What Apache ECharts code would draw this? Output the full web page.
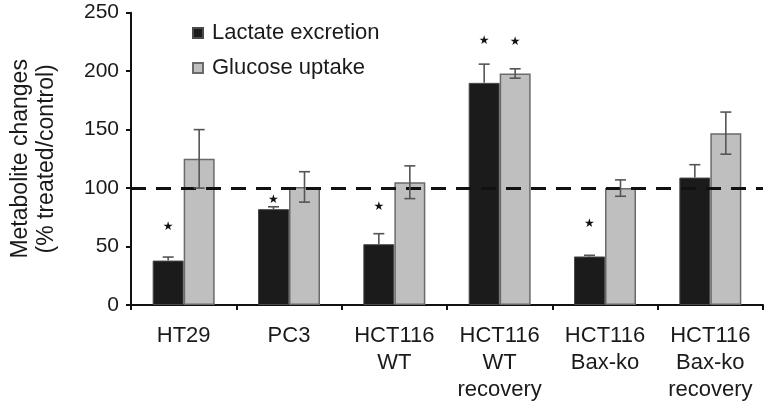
<!DOCTYPE html>
<html><head><meta charset="utf-8">
<script src="https://cdn.jsdelivr.net/npm/echarts@6/dist/echarts.min.js"></script>
<style>html,body{margin:0;padding:0;background:#fff}#c{width:768px;height:405px}</style>
</head><body><div id="c"></div>
<script>
const categories = ['HT29', 'PC3', 'HCT116\nWT', 'HCT116\nWT\nrecovery', 'HCT116\nBax-ko', 'HCT116\nBax-ko\nrecovery'];
const lactate = [38, 82, 52, 190, 41.5, 109];
const lactateErr = [3, 2, 9, 16, 1, 11];
const glucose = [125, 101, 105, 198, 100, 147];
const glucoseErr = [25, 13, 14, 4, 7, 18];
const lactateStar = [true, true, true, true, true, false];
const lactateStarY = [67, 90, 84, 226, 69, null];
const glucoseStar = [false, false, false, true, false, false];
const glucoseStarY = [null, null, null, 225, null, null];
const yTicks = [0, 50, 100, 150, 200, 250];
const refLine = 100;

const FONT = 'Liberation Sans, Arial, sans-serif';
const BARW = 31;

function errData(vals, errs, side, upperOnly) {
  return vals.map((v, i) => [i, v, errs[i], side, upperOnly ? 1 : 0]);
}
function starData(flags, ys, side) {
  const out = [];
  flags.forEach((f, i) => { if (f) out.push([i, ys[i], side]); });
  return out;
}

function renderErr(params, api) {
  const i = api.value(0), v = api.value(1), e = api.value(2), side = api.value(3), up = api.value(4);
  const top = api.coord([i, v + e]);
  const bot = api.coord([i, up ? v : v - e]);
  const x = top[0] + side * BARW / 2;
  const cap = 5.5;
  const st = { stroke: '#555', lineWidth: 1.6 };
  const children = [
    { type: 'line', shape: { x1: x, y1: top[1], x2: x, y2: bot[1] }, style: st },
    { type: 'line', shape: { x1: x - cap, y1: top[1], x2: x + cap, y2: top[1] }, style: st }
  ];
  if (!up) children.push({ type: 'line', shape: { x1: x - cap, y1: bot[1], x2: x + cap, y2: bot[1] }, style: st });
  return { type: 'group', children };
}
function renderStar(params, api) {
  const p = api.coord([api.value(0), api.value(1)]);
  const x = p[0] + api.value(2) * BARW / 2;
  return { type: 'text', style: { text: '★', x: x, y: p[1], fill: '#111', font: '12px DejaVu Sans', align: 'center', verticalAlign: 'middle' } };
}

const chart = echarts.init(document.getElementById('c'), null, { renderer: 'canvas' });
chart.setOption({
  animation: false,
  textStyle: { fontFamily: FONT },
  grid: { left: 126, right: 5, top: 12.7, bottom: 100, containLabel: false },
  legend: {
    orient: 'vertical', left: 187, top: 17, itemWidth: 10, itemHeight: 10, itemGap: 13,
    icon: 'rect',
    textStyle: { fontSize: 22, color: '#1a1a1a', fontFamily: FONT, padding: [0, 0, 0, 4] },
    data: ['Lactate excretion', 'Glucose uptake']
  },
  xAxis: {
    type: 'category', data: categories,
    axisLine: { lineStyle: { color: '#111', width: 2 } },
    axisTick: { show: true, length: 5, lineStyle: { color: '#111', width: 2 } },
    axisLabel: { fontSize: 22, color: '#1a1a1a', lineHeight: 27, margin: 17, fontFamily: FONT, interval: 0 }
  },
  yAxis: {
    type: 'value', min: 0, max: 250, interval: 50,
    name: 'Metabolite changes\n(% treated/control)',
    nameLocation: 'middle', nameRotate: 90, nameGap: 71,
    nameTextStyle: { fontSize: 23, color: '#1a1a1a', lineHeight: 26, fontFamily: FONT },
    axisLine: { show: true, lineStyle: { color: '#111', width: 2 } },
    axisTick: { show: true, length: 5, lineStyle: { color: '#111', width: 2 } },
    axisLabel: { fontSize: 21, color: '#1a1a1a', margin: 12, fontFamily: FONT,
      formatter: v => (yTicks.indexOf(v) >= 0 ? String(v) : '') },
    splitLine: { show: false }
  },
  series: [
    {
      name: 'Lactate excretion', type: 'bar', data: lactate, barWidth: BARW, barGap: '0%',
      itemStyle: { color: '#1b1b1b', borderColor: '#4a4a4a', borderWidth: 1 },
      markLine: {
        silent: true, symbol: 'none', label: { show: false },
        lineStyle: { color: '#111', width: 3, type: [15, 10] },
        data: [{ yAxis: refLine }]
      },
      z: 2
    },
    {
      name: 'Glucose uptake', type: 'bar', data: glucose, barWidth: BARW,
      itemStyle: { color: '#bfbfbf', borderColor: '#6a6a6a', borderWidth: 1.5 },
      z: 2
    },
    { type: 'custom', renderItem: renderErr, data: errData(lactate, lactateErr, -1, true), z: 5, silent: true },
    { type: 'custom', renderItem: renderErr, data: errData(glucose, glucoseErr, 1, false), z: 5, silent: true },
    { type: 'custom', renderItem: renderStar, data: starData(lactateStar, lactateStarY, -1), z: 5, silent: true },
    { type: 'custom', renderItem: renderStar, data: starData(glucoseStar, glucoseStarY, 1), z: 5, silent: true }
  ]
});
</script></body></html>
